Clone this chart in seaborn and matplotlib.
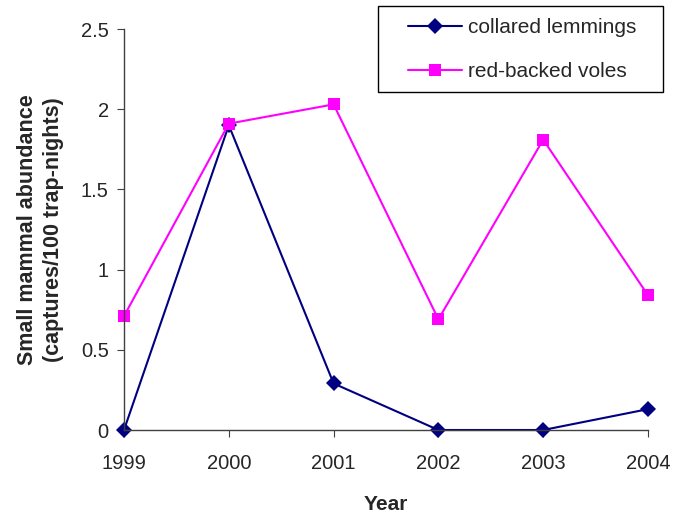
import pandas as pd
import numpy as np
import matplotlib.pyplot as plt
import seaborn as sns
from matplotlib.lines import Line2D
from matplotlib.patches import Rectangle

# data
years = [1999, 2000, 2001, 2002, 2003, 2004]
lemmings = [0.0, 1.90, 0.29, 0.0, 0.0, 0.13]
voles = [0.71, 1.91, 2.03, 0.69, 1.81, 0.84]
series_names = ["collared lemmings", "red-backed voles"]
colors = {series_names[0]: "#000080", series_names[1]: "#FF00FF"}
markers = {series_names[0]: "D", series_names[1]: "s"}

df = pd.DataFrame({
    "Year": years * 2,
    "abundance": lemmings + voles,
    "series": [series_names[0]] * len(years) + [series_names[1]] * len(years),
})

sns.set_style("ticks")
plt.rcParams['font.family'] = ['Liberation Sans', 'DejaVu Sans']

W, H = 676, 523
fig = plt.figure(figsize=(W / 100, H / 100), dpi=100)
ax = fig.add_axes([124 / W, 93 / H, 524 / W, 401 / H])

sns.lineplot(data=df, x="Year", y="abundance", hue="series", style="series",
             palette=colors, markers=markers, dashes=False,
             markersize=8.5, linewidth=1.5, markeredgewidth=0,
             ax=ax, legend=False)

ax.set_xlim(1999, 2004)
ax.set_ylim(0, 2.5)
ax.set_xticks(years)
ax.set_yticks([0, 0.5, 1, 1.5, 2, 2.5])
ax.set_yticklabels(["0", "0.5", "1", "1.5", "2", "2.5"])
for s in ["top", "right"]:
    ax.spines[s].set_visible(False)
for s in ["left", "bottom"]:
    ax.spines[s].set_color("#404040")
    ax.spines[s].set_linewidth(1)
ax.tick_params(axis="both", labelsize=14.5, length=5, color="#404040", pad=6)
ax.tick_params(axis="x", pad=12)
for ln in ax.lines:
    ln.set_clip_on(False)

ax.set_xlabel("Year", fontsize=15, fontweight="bold", labelpad=16)
ax.set_ylabel("Small mammal abundance\n(captures/100 trap-nights)",
              fontsize=15.5, fontweight="bold", labelpad=12, linespacing=1.3)

# legend: entries without frame, box drawn separately (Excel style)
handles = [Line2D([], [], color=colors[n], marker=markers[n], markersize=8.5,
                  markeredgewidth=0, lw=1.5) for n in series_names]
leg = fig.legend(handles, series_names, loc="upper left",
                 bbox_to_anchor=(408 / W, 1 - 18 / H), fontsize=15,
                 frameon=False, handlelength=2.6, handletextpad=0.3,
                 borderpad=0, labelspacing=1.2, borderaxespad=0)
fig.patches.append(Rectangle((378 / W, 1 - 92 / H), 285 / W, 86 / H,
                             transform=fig.transFigure, fill=False,
                             edgecolor="black", linewidth=1))

fig.savefig("out.png", dpi=100)
